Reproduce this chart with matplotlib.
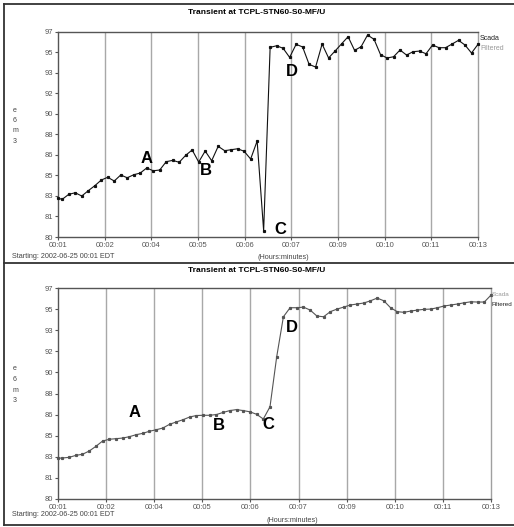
import numpy as np
import matplotlib
matplotlib.use("Agg")
import matplotlib.pyplot as plt
from matplotlib.lines import Line2D

plt.rcParams['font.family'] = ['Liberation Sans', 'DejaVu Sans']

# ---------------- data ----------------
title = "Transient at TCPL-STN60-S0-MF/U"
start_text = "Starting: 2002-06-25 00:01 EDT"
xlabel_text = "(Hours:minutes)"
ylabel_chars = ["e", "6", "m", "3"]

x_tick_labels = ["00:01", "00:02", "00:04", "00:05", "00:06",
                 "00:07", "00:09", "00:10", "00:11", "00:13"]
y_tick_labels = ["80", "81", "83", "85", "86", "88", "90", "92", "93", "95", "97"]
y_min, y_max = 80, 97
x_min, x_max = 1, 13

# sample times (minutes): the start of the window, then regular samples
sample_minutes = np.concatenate([[1.0], np.linspace(1.122, 13.0, 65)])

scada = [83.20, 83.12, 83.53, 83.66, 83.39, 83.83, 84.24, 84.71, 84.94, 84.63,
         85.13, 84.90, 85.15, 85.29, 85.71, 85.48, 85.54,
         86.23, 86.34, 86.18, 86.76, 87.20, 86.20, 87.11, 86.31, 87.50, 87.14,
         87.22, 87.30, 87.09, 86.45, 87.94, 80.52,
         95.69, 95.82, 95.61, 94.86, 95.94, 95.72, 94.28, 94.06, 95.96, 94.81,
         95.39, 95.98, 96.57, 95.44, 95.74, 96.71, 96.35, 95.08, 94.81, 94.91,
         95.47, 95.05, 95.33, 95.38, 95.16, 95.88, 95.66, 95.66, 95.96, 96.27,
         95.88, 95.22, 95.94]

filtered = [83.27, 83.29, 83.34, 83.50, 83.59, 83.85, 84.23, 84.66, 84.80, 84.85,
            84.90, 85.01, 85.17, 85.28, 85.45, 85.57, 85.71, 86.01, 86.20, 86.38,
            86.60, 86.72, 86.74, 86.74, 86.80, 86.97, 87.12, 87.20, 87.12, 87.02,
            86.82, 86.44, 87.43, 91.47, 94.70, 95.43, 95.43, 95.48, 95.24, 94.76,
            94.70, 95.11, 95.32, 95.48, 95.65, 95.73, 95.81, 95.99, 96.21, 95.99,
            95.43, 95.11, 95.06, 95.16, 95.24, 95.30, 95.32, 95.43, 95.57, 95.65,
            95.73, 95.83, 95.91, 95.89, 95.89, 96.45]

top_marks = {"A": (3.54, 86.53), "B": (5.23, 85.54), "C": (7.34, 80.66), "D": (7.69, 93.65)}
bottom_marks = {"A": (3.11, 87.00), "B": (5.46, 85.95), "C": (6.82, 86.03), "D": (7.49, 93.87)}

# ---------------- figure ----------------
W, H = 514, 527
fig = plt.figure(figsize=(W / 100, H / 100), dpi=100)
fig.patch.set_facecolor("white")


def fx(px):
    return px / W


def fy(py):
    return 1 - py / H


def panel(ax_box, series, marks, line_color, scada_color, filt_color,
          title_y, legend_x, legend_y, legend_size, ylab_y, start_y, hm_x, hm_y):
    l, t, r, b = ax_box
    ax = fig.add_axes([fx(l), fy(b), fx(r) - fx(l), fy(t) - fy(b)])
    ax.set_xlim(x_min, x_max)
    ax.set_ylim(y_min, y_max)
    xt = np.linspace(x_min, x_max, len(x_tick_labels))
    yt = np.linspace(y_min, y_max, len(y_tick_labels))
    ax.set_xticks(xt)
    ax.set_xticklabels(x_tick_labels)
    ax.set_yticks(yt)
    ax.set_yticklabels(y_tick_labels)
    ax.tick_params(axis="both", labelsize=5.5, colors="#555555", length=2.5,
                   width=0.8, pad=1)
    for xv in xt[1:-1]:
        ax.axvline(xv, color="#a8a8a8", lw=1.0, zorder=0)
    for name, sp in ax.spines.items():
        sp.set_linewidth(1.0)
        sp.set_color("#555555" if name in ("left", "bottom", "top") else "#a0a0a0")
    ax.plot(sample_minutes, series, color=line_color, lw=0.8,
            marker="s", ms=1.3, mec=line_color, mfc=line_color, zorder=3,
            clip_on=False)
    for k, (mx, my) in marks.items():
        ax.text(mx, my, k, fontsize=12, fontweight="bold", ha="center",
                va="center", color="black")
    fig.text(fx(257), fy(title_y), title, fontsize=6, fontweight="bold",
             ha="center", va="center", color="black")
    fig.text(fx(legend_x), fy(legend_y), "Scada", fontsize=legend_size, ha="left",
             va="center", color=scada_color)
    fig.text(fx(legend_x), fy(legend_y + 10), "Filtered", fontsize=legend_size,
             ha="left", va="center", color=filt_color)
    for i, ch in enumerate(ylabel_chars):
        fig.text(fx(15), fy(ylab_y + i * 10.5), ch, fontsize=5, ha="center",
                 va="center", color="#444444")
    fig.text(fx(12), fy(start_y), start_text, fontsize=5.2, ha="left",
             va="center", color="#444444")
    fig.text(fx(hm_x), fy(hm_y), xlabel_text, fontsize=5.2, ha="center",
             va="center", color="#444444")
    return ax


panel((58, 31.5, 478, 237), scada, top_marks, "#111111", "#222222", "#999999",
      title_y=12, legend_x=480, legend_y=38, legend_size=5, ylab_y=110, start_y=257,
      hm_x=283, hm_y=258)
panel((58, 288.3, 491, 498.7), filtered, bottom_marks, "#555555", "#999999", "#222222",
      title_y=270, legend_x=492, legend_y=295, legend_size=4.5, ylab_y=369, start_y=514,
      hm_x=292, hm_y=521)

# panel frames
frame_kw = dict(color="#333333", lw=1.3, transform=fig.transFigure)
fig.add_artist(Line2D([fx(4), 1], [fy(4), fy(4)], **frame_kw))
fig.add_artist(Line2D([fx(4), fx(4)], [fy(4), fy(525)], **frame_kw))
fig.add_artist(Line2D([fx(4), 1], [fy(262.5), fy(262.5)], **frame_kw))
fig.add_artist(Line2D([fx(4), 1], [fy(525), fy(525)], **frame_kw))

fig.savefig("out.png", dpi=100)
